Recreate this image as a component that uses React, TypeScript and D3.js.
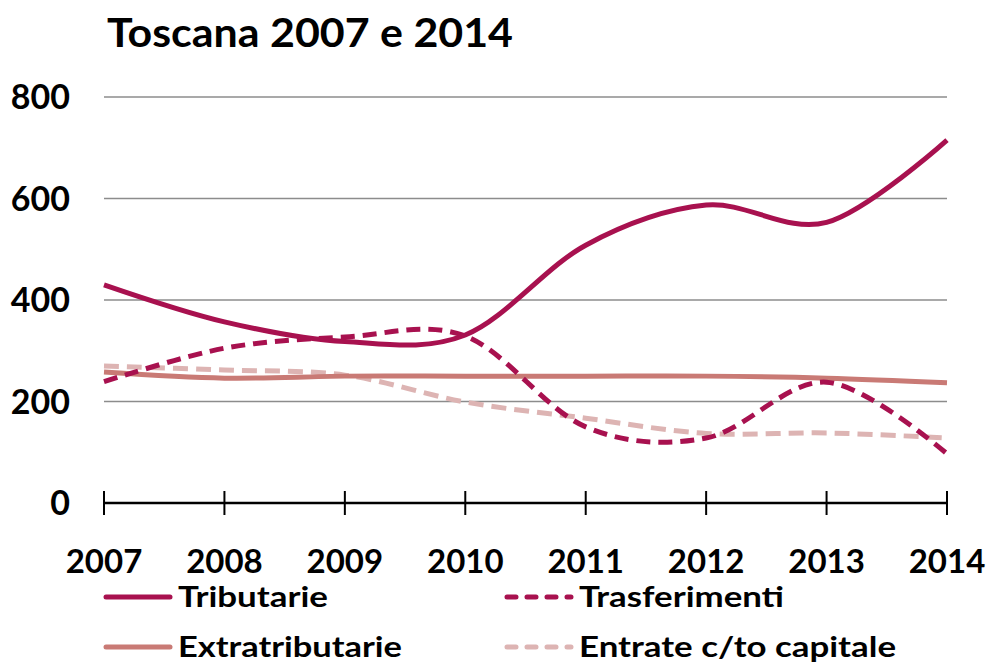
import React, { useEffect, useRef } from 'react';
import * as d3 from 'd3';

const years = [2007, 2008, 2009, 2010, 2011, 2012, 2013, 2014];
const tributarie = [430, 357, 318, 331, 508, 587, 553, 715];
const trasferimenti = [239, 305, 327, 329, 150, 128, 238, 97];
const extratributarie = [258, 246, 250, 250, 250, 250, 246, 237];
const entrateCapitale = [270, 262, 252, 199, 167, 137, 138, 128];
const yTicks = [0, 200, 400, 600, 800];

const seriesList = [
  { name: 'Tributarie', values: tributarie, color: '#A8114F', dash: null, width: 150 },
  { name: 'Trasferimenti', values: trasferimenti, color: '#A8114F', dash: '14,8', width: 205 },
  { name: 'Extratributarie', values: extratributarie, color: '#C97A75', dash: null, width: 224 },
  { name: 'Entrate c/to capitale', values: entrateCapitale, color: '#DDB4B3', dash: '15,8', width: 317 },
];

const W = 989;
const H = 664;
const FONT = 'Lato, Calibri, sans-serif';

const App: React.FC = () => {
  const svgRef = useRef<SVGSVGElement | null>(null);

  useEffect(() => {
    if (!svgRef.current) return;
    const svg = d3.select(svgRef.current);
    svg.selectAll('*').remove();

    const x = d3.scaleLinear().domain([2007, 2014]).range([104, 947]);
    const y = d3.scaleLinear().domain([0, 800]).range([503, 97]);

    // title
    svg.append('text')
      .attr('x', 107)
      .attr('y', 47)
      .attr('font-family', FONT)
      .attr('font-weight', 'bold')
      .attr('font-size', 40)
      .attr('textLength', 406)
      .attr('lengthAdjust', 'spacingAndGlyphs')
      .text('Toscana 2007 e 2014');

    // gridlines
    svg.selectAll('.grid')
      .data(yTicks.filter(d => d > 0))
      .enter()
      .append('line')
      .attr('x1', x(2007))
      .attr('x2', x(2014))
      .attr('y1', d => y(d))
      .attr('y2', d => y(d))
      .attr('stroke', '#8c8c8c')
      .attr('stroke-width', 1.5);

    // y labels
    svg.selectAll('.ylab')
      .data(yTicks)
      .enter()
      .append('text')
      .attr('x', 70)
      .attr('y', d => y(d))
      .attr('dy', '0.36em')
      .attr('text-anchor', 'end')
      .attr('font-family', FONT)
      .attr('font-weight', 'bold')
      .attr('font-size', 34)
      .text(d => d);

    // x axis
    svg.append('line')
      .attr('x1', x(2007))
      .attr('x2', x(2014))
      .attr('y1', y(0))
      .attr('y2', y(0))
      .attr('stroke', '#000')
      .attr('stroke-width', 2.5);

    svg.selectAll('.xtick')
      .data(years)
      .enter()
      .append('line')
      .attr('x1', d => x(d))
      .attr('x2', d => x(d))
      .attr('y1', y(0) - 12)
      .attr('y2', y(0) + 12)
      .attr('stroke', '#000')
      .attr('stroke-width', 2);

    svg.selectAll('.xlab')
      .data(years)
      .enter()
      .append('text')
      .attr('x', d => x(d))
      .attr('y', 573)
      .attr('text-anchor', 'middle')
      .attr('font-family', FONT)
      .attr('font-weight', 'bold')
      .attr('font-size', 33)
      .text(d => d);

    // lines
    const line = d3.line<number>()
      .x((_, i) => x(years[i]))
      .y(d => y(d))
      .curve(d3.curveCatmullRom.alpha(0));

    seriesList.slice().reverse().forEach(s => {
      svg.append('path')
        .attr('d', line(s.values))
        .attr('fill', 'none')
        .attr('stroke', s.color)
        .attr('stroke-width', 5)
        .attr('stroke-dasharray', s.dash ?? null);
    });

    // legend
    const legendPos = [
      { lx: 104, ty: 597 },
      { lx: 505, ty: 597 },
      { lx: 104, ty: 647 },
      { lx: 505, ty: 647 },
    ];
    seriesList.forEach((s, i) => {
      const p = legendPos[i];
      const g = svg.append('g');
      g.append('line')
        .attr('x1', p.lx + 2)
        .attr('x2', p.lx + 66)
        .attr('y1', p.ty)
        .attr('y2', p.ty)
        .attr('stroke', s.color)
        .attr('stroke-width', 5)
        .attr('stroke-linecap', 'round')
        .attr('stroke-dasharray', s.dash ? '9,11' : null);
      g.append('text')
        .attr('x', p.lx + 74)
        .attr('y', p.ty + 10)
        .attr('font-family', FONT)
        .attr('font-weight', 'bold')
        .attr('font-size', 29)
        .attr('textLength', s.width)
        .attr('lengthAdjust', 'spacingAndGlyphs')
        .text(s.name);
    });
  }, []);

  return (
    <div style={{ position: 'absolute', left: 0, top: 0 }}>
      <svg ref={svgRef} width={W} height={H} style={{ display: 'block', background: '#fff' }} />
    </div>
  );
};

export default App;
